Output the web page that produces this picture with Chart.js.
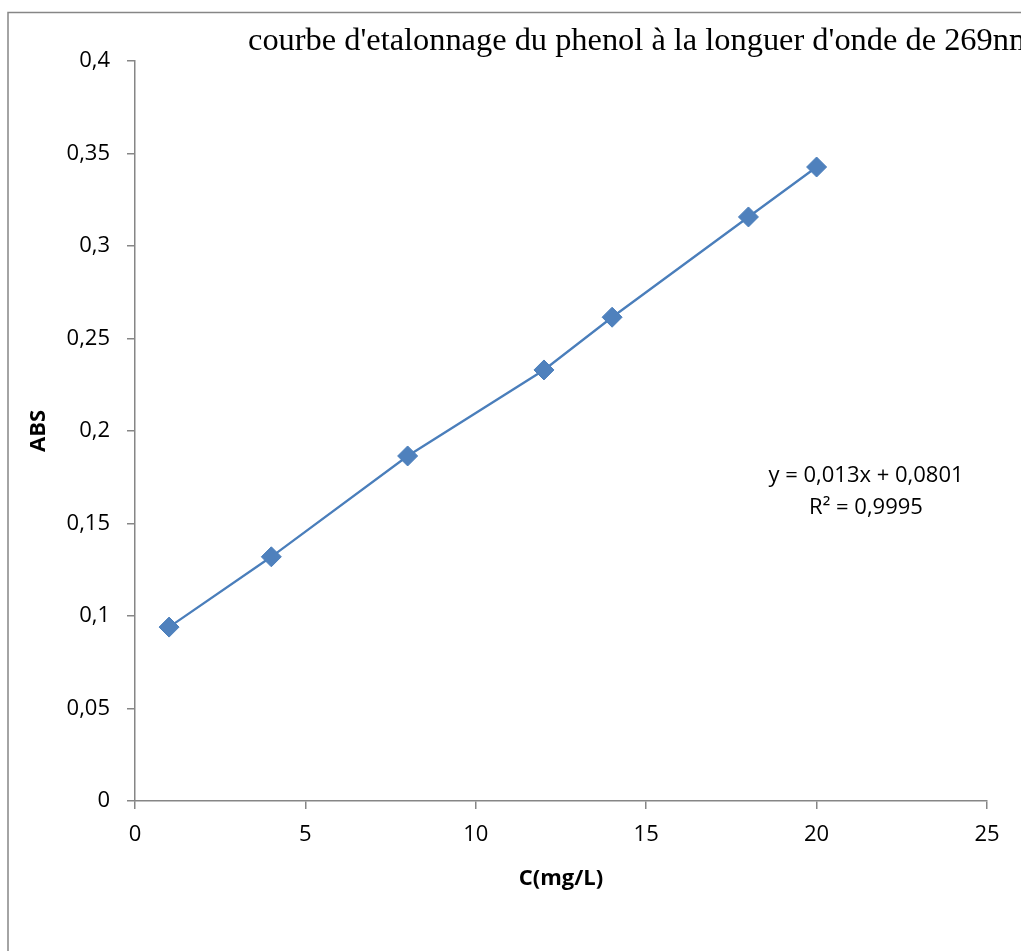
<!DOCTYPE html>
<html>
<head>
<meta charset="utf-8">
<script src="https://cdn.jsdelivr.net/npm/chart.js@4/dist/chart.umd.min.js"></script>
<style>
  html, body { margin: 0; padding: 0; background: #fff; overflow: hidden; }
  #wrap { position: absolute; left: 0; top: 0; width: 1021px; height: 951px; }
</style>
</head>
<body>
<div id="wrap"><canvas id="chart" width="1021" height="951"></canvas></div>
<script>
// data
const concentrations = [1, 4, 8, 12, 14, 18, 20];
const absorbances = [0.094, 0.132, 0.1865, 0.233, 0.2615, 0.3157, 0.3427];
const xTicks = [0, 5, 10, 15, 20, 25];
const yTicks = [0, 0.05, 0.1, 0.15, 0.2, 0.25, 0.3, 0.35, 0.4];
const chartTitle = "courbe d'etalonnage du phenol à la longuer d'onde de 269nm";
const trendLabel = ['y = 0,013x + 0,0801', 'R² = 0,9995'];

const axisColor = '#868686';
const blue = '#4F81BD';
const sans = "'Open Sans', 'Noto Sans', sans-serif";

const points = concentrations.map((c, i) => ({x: c, y: absorbances[i]}));
const fmt = v => String(Math.round(v * 100) / 100).replace('.', ',');

// frame, title and equation are drawn by hand like in the excel export
const extras = {
  id: 'extras',
  beforeDraw(chart){
    const ctx = chart.ctx;
    ctx.save();
    ctx.strokeStyle = axisColor;
    ctx.lineWidth = 1.5;
    ctx.strokeRect(8, 12.5, 2000, 2000);
    ctx.restore();
  },
  afterDraw(chart){
    const ctx = chart.ctx, a = chart.chartArea;
    const xs = chart.scales.x, ys = chart.scales.y;
    ctx.save();
    ctx.fillStyle = '#000';
    ctx.font = "32.4px 'Liberation Serif', 'Times New Roman', serif";
    ctx.textAlign = 'left';
    ctx.textBaseline = 'alphabetic';
    ctx.fillText(chartTitle, a.left + 113, 50);

    ctx.font = '22px ' + sans;
    ctx.textAlign = 'center';
    ctx.textBaseline = 'middle';
    const cx = xs.getPixelForValue(21.45);
    const cy = ys.getPixelForValue(0.1758);
    trendLabel.forEach((t, i) => ctx.fillText(t, cx, cy + i * 32));
    ctx.restore();
  }
};

new Chart(document.getElementById('chart'), {
  type: 'scatter',
  data: {
    datasets: [{
      label: 'ABS',
      data: points,
      showLine: true,
      tension: 0,
      borderColor: '#4A7EBB',
      borderWidth: 2.3,
      pointStyle: 'rectRot',
      pointRadius: 10,
      pointHoverRadius: 10,
      pointBackgroundColor: blue,
      pointBorderColor: '#4A7EBB',
      pointBorderWidth: 1
    }]
  },
  options: {
    responsive: false,
    animation: false,
    events: [],
    layout: { padding: { top: 61, right: 34, left: 0, bottom: 0 } },
    plugins: { legend: { display: false }, title: { display: false }, tooltip: { enabled: false } },
    scales: {
      x: {
        type: 'linear', min: 0, max: 25,
        afterFit: s => { s.height = 150; },
        afterBuildTicks: s => { s.ticks = xTicks.map(v => ({value: v})); },
        grid: { drawOnChartArea: false, drawTicks: true, tickLength: 8, color: axisColor, lineWidth: 1.5 },
        border: { color: axisColor, width: 1.5 },
        ticks: { color: '#000', font: { family: sans, size: 22 }, padding: 13, maxRotation: 0, callback: v => fmt(v) },
        title: { display: true, text: 'C(mg/L)', color: '#000', font: { family: sans, size: 22, weight: 'bold' }, padding: { top: 0, bottom: 59 } }
      },
      y: {
        type: 'linear', min: 0, max: 0.4,
        afterFit: s => { s.width = 135; },
        afterBuildTicks: s => { s.ticks = yTicks.map(v => ({value: v})); },
        grid: { drawOnChartArea: false, drawTicks: true, tickLength: 8, color: axisColor, lineWidth: 1.5 },
        border: { color: axisColor, width: 1.5 },
        ticks: { color: '#000', font: { family: sans, size: 22 }, padding: 17, callback: v => fmt(v) },
        title: { display: true, text: 'ABS', color: '#000', font: { family: sans, size: 22, weight: 'bold' }, padding: { top: 26, bottom: 0 } }
      }
    }
  },
  plugins: [extras]
});
</script>
</body>
</html>
